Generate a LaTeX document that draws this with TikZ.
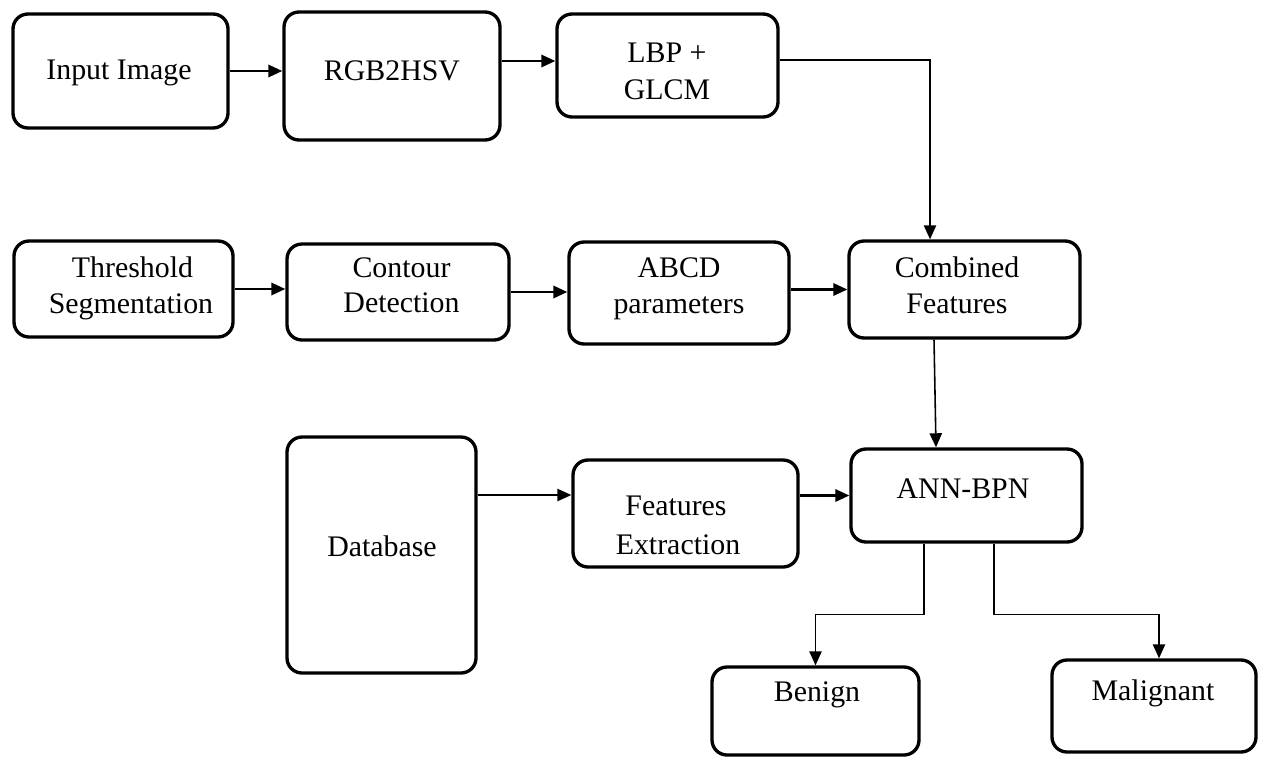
\documentclass[tikz,border=0pt]{standalone}
\usepackage{fontspec}
\setmainfont{Liberation Serif}
\usetikzlibrary{arrows.meta,calc}
\begin{document}
\begin{tikzpicture}[x=0.02cm,y=-0.02cm,
  bx/.style 2 args={draw, rounded corners=0.3cm, line width=1.9pt, inner sep=0pt,
    minimum width=#1*0.02cm, minimum height=#2*0.02cm},
  txt/.style={anchor=base, inner sep=0pt, font=\fontsize{17}{20}\selectfont},
  arr/.style={line width=1.4pt, -{Triangle[length=8pt,width=7pt]}},
  arrthin/.style={line width=0.9pt, -{Triangle[length=8pt,width=7pt]}}]
\useasboundingbox (0,0) rectangle (1267,757);
% boxes
\node[bx={215}{114}] (inp)  at (120.5,71) {};
\node[bx={216}{128}] (rgb)  at (392,76) {};
\node[bx={221}{103}] (lbp)  at (667.5,65.5) {};
\node[bx={219}{96}]  (thr)  at (123.5,289) {};
\node[bx={222}{96}]  (con)  at (398,292) {};
\node[bx={220}{102}] (abcd) at (679,293) {};
\node[bx={231}{97}]  (comb) at (964.5,289.5) {};
\node[bx={189}{236}] (db)   at (381.5,555) {};
\node[bx={225}{107}] (fe)   at (685.5,513.5) {};
\node[bx={231}{93}]  (ann)  at (966.5,495.5) {};
\node[bx={207}{88}]  (ben)  at (815.5,711) {};
\node[bx={204}{92}]  (mal)  at (1154,706) {};
% texts
\node[txt] (t1)  at (119,80) {Input Image};
\node[txt] (t2)  at (392,81) {RGB2HSV};
\node[txt] (t3a) at (667,63) {LBP +};
\node[txt] (t3b) at (667,99) {GLCM};
\node[txt] (t4a) at (132.5,277) {Threshold};
\node[txt] (t4b) at (131,313.5) {Segmentation};
\node[txt] (t5a) at (401.5,277) {Contour};
\node[txt] (t5b) at (401.5,312.5) {Detection};
\node[txt] (t6a) at (679,277) {ABCD};
\node[txt] (t6b) at (679,313) {parameters};
\node[txt] (t7a) at (957,277) {Combined};
\node[txt] (t7b) at (957,313) {Features};
\node[txt] (t8)  at (382,556) {Database};
\node[txt] (t9a) at (676,515) {Features};
\node[txt] (t9b) at (678,554) {Extraction};
\node[txt] (t10) at (963,498) {ANN-BPN};
\node[txt] (t11) at (817,701) {Benign};
\node[txt] (t12) at (1153,700) {Malignant};
% connectors
\draw[arr] (inp.east) -- (inp.east -| rgb.west);
\draw[arr] ([yshift=0.3cm]rgb.east) -- ([yshift=0.3cm]rgb.east -| lbp.west);
\draw[arrthin] ([yshift=0.11cm]lbp.east) -| ([xshift=-0.69cm]comb.north);
\draw[arr] (thr.east) -- (thr.east -| con.west);
\draw[arr] (con.east) -- (con.east -| abcd.west);
\draw[arr] (comb.west -| abcd.east) -- (comb.west);
\draw[arrthin] ([xshift=-0.61cm]comb.south) -- ([xshift=-0.61cm]ann.north);
\coordinate (fein) at ([yshift=0.37cm]fe.west);
\draw[arrthin] (db.east |- fein) -- (fein);
\draw[arr] (fe.east |- ann.west) -- (ann.west);
\draw[arrthin] ([xshift=-0.85cm]ann.south) -- ++(0,71) -| (ben.north);
\draw[arrthin] ([xshift=0.55cm]ann.south) -- ++(0,71) -| ([xshift=0.1cm]mal.north);
\end{tikzpicture}
\end{document}
